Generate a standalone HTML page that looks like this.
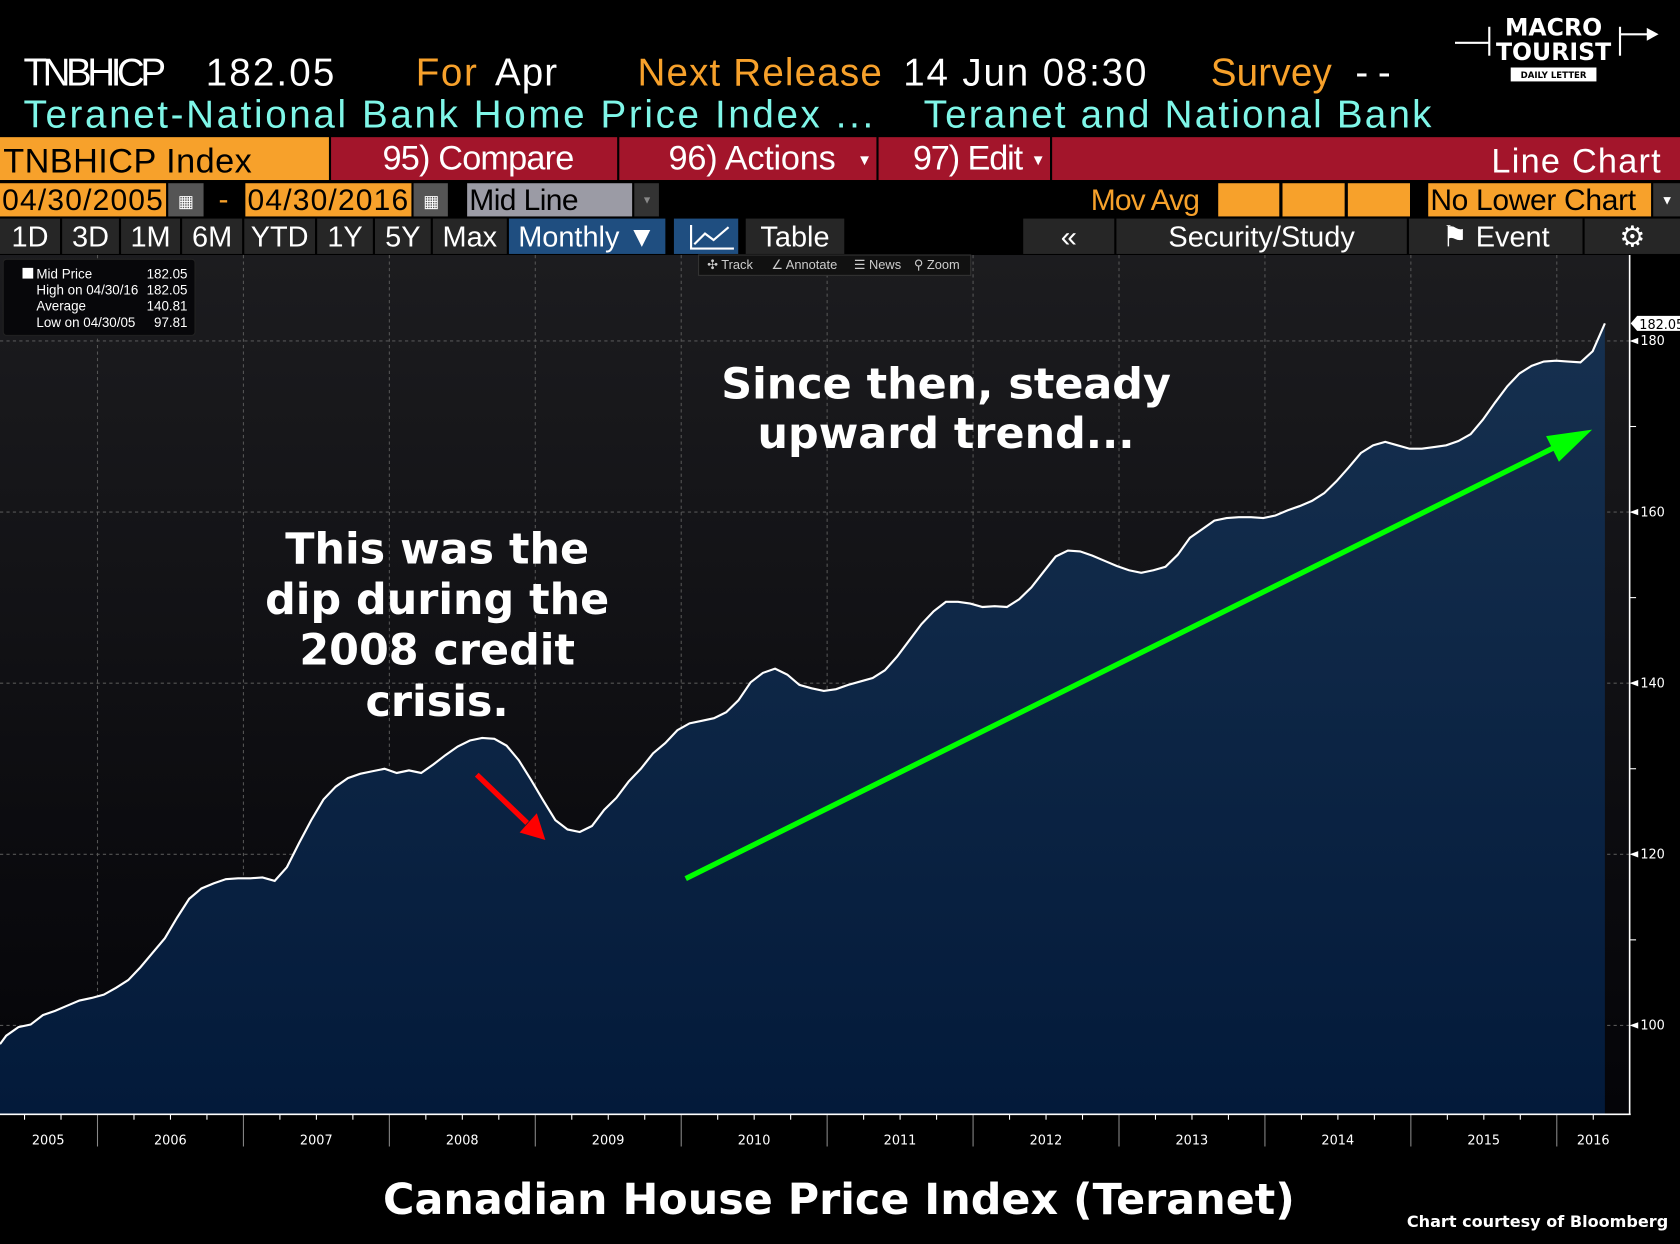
<!DOCTYPE html>
<html><head><meta charset="utf-8"><style>
html,body{margin:0;padding:0;background:#000;overflow:hidden}
svg{display:block}
.m{font-family:"Liberation Sans Narrow","Liberation Sans",sans-serif}
.b{font-family:"DejaVu Sans","Liberation Sans",sans-serif;font-weight:bold}
</style></head><body>
<svg id="svg" width="1680" height="1244" viewBox="0 0 1568 1161" preserveAspectRatio="none" xmlns="http://www.w3.org/2000/svg">
<defs>
<linearGradient id="fill" x1="0" y1="0" x2="0" y2="1"><stop offset="0" stop-color="#16304f"/><stop offset="1" stop-color="#031a3a"/></linearGradient>
<linearGradient id="bg" x1="0" y1="0" x2="0" y2="1"><stop offset="0" stop-color="#1c1c1f"/><stop offset="1" stop-color="#040408"/></linearGradient>
</defs>
<rect width="1568" height="1161" fill="#000"/>
<g class="m" font-size="36">
<text x="22" y="80" fill="#fff" textLength="133">TNBHICP</text>
<text x="192" y="80" fill="#fff" textLength="120">182.05</text>
<text x="388" y="80" fill="#f7a12b" textLength="57">For</text>
<text x="462" y="80" fill="#fff" textLength="58">Apr</text>
<text x="595" y="80" fill="#f7a12b" textLength="228">Next Release</text>
<text x="843" y="80" fill="#fff" textLength="227">14 Jun 08:30</text>
<text x="1130" y="80" fill="#f7a12b" textLength="113">Survey</text>
<text x="1265" y="80" fill="#fff" textLength="33">--</text>
<text x="22" y="119" fill="#7ff6e8" textLength="793">Teranet-National Bank Home Price Index ...</text>
<text x="862" y="119" fill="#7ff6e8" textLength="474">Teranet and National Bank</text>
</g>
<g>
<text x="1450" y="33" class="b" font-size="22" fill="#fff" text-anchor="middle">MACRO</text>
<text x="1450" y="56" class="b" font-size="22" fill="#fff" text-anchor="middle">TOURIST</text>
<rect x="1410" y="63" width="80" height="13" fill="#fff"/>
<text x="1450" y="73" class="b" font-size="8" fill="#000" text-anchor="middle">DAILY LETTER</text>
<line x1="1358" y1="40" x2="1390" y2="40" stroke="#fff" stroke-width="2"/><line x1="1390" y1="25" x2="1390" y2="52" stroke="#fff" stroke-width="2"/>
<line x1="1512" y1="25" x2="1512" y2="52" stroke="#fff" stroke-width="2"/><line x1="1512" y1="32" x2="1540" y2="32" stroke="#fff" stroke-width="2"/><path d="M1537 26 L1548 32 L1537 38Z" fill="#fff"/>
</g>
<g class="m" font-size="32">
<rect x="0" y="128" width="307" height="40" fill="#f7a12b"/>
<text x="3" y="161" fill="#000" textLength="232">TNBHICP Index</text>
<rect x="309" y="128" width="267" height="40" fill="#a3152b"/>
<text x="357" y="158" fill="#fff" textLength="179">95) Compare</text>
<rect x="578" y="128" width="240" height="40" fill="#a3152b"/>
<text x="624" y="158" fill="#fff" textLength="156">96) Actions</text><text x="800" y="154" fill="#fff" font-size="14">▼</text>
<rect x="820" y="128" width="160" height="40" fill="#a3152b"/>
<text x="852" y="158" fill="#fff" textLength="103">97) Edit</text><text x="962" y="154" fill="#fff" font-size="14">▼</text>
<rect x="982" y="128" width="586" height="40" fill="#a3152b"/>
<text x="1392" y="161" fill="#fff" textLength="158">Line Chart</text>
</g>
<g class="m" font-size="28">
<rect x="0" y="171" width="155" height="31" fill="#f7a12b"/>
<text x="2" y="196" fill="#000" textLength="150">04/30/2005</text>
<rect x="157" y="171" width="33" height="31" fill="#555"/>
<text x="166" y="193" fill="#fff" font-size="16">▦</text>
<text x="204" y="195" fill="#f7a12b">-</text>
<rect x="229" y="171" width="155" height="31" fill="#f7a12b"/>
<text x="231" y="196" fill="#000" textLength="150">04/30/2016</text>
<rect x="386" y="171" width="32" height="31" fill="#555"/>
<text x="395" y="193" fill="#fff" font-size="16">▦</text>
<rect x="436" y="171" width="154" height="31" fill="#9b9ba5"/>
<text x="438" y="196" fill="#000" textLength="102">Mid Line</text>
<rect x="592" y="171" width="23" height="31" fill="#333"/><text x="599" y="190" fill="#888" font-size="10">▼</text>
<text x="1018" y="196" fill="#f7a12b" textLength="102">Mov Avg</text>
<rect x="1137" y="171" width="57" height="31" fill="#f7a12b"/>
<rect x="1197" y="171" width="58" height="31" fill="#f7a12b"/>
<rect x="1258" y="171" width="58" height="31" fill="#f7a12b"/>
<rect x="1333" y="171" width="208" height="31" fill="#f7a12b"/>
<text x="1335" y="196" fill="#000" textLength="192">No Lower Chart</text>
<rect x="1543" y="171" width="25" height="31" fill="#333"/><text x="1550" y="191" fill="#fff" font-size="12">▼</text>
</g>
<g class="m" font-size="27" fill="#fff" id="row5"></g>
<rect x="0" y="238" width="1521" height="802" fill="url(#bg)"/>
<g id="grid"></g>
<path id="area" fill="url(#fill)"/>
<path id="line" fill="none" stroke="#fff" stroke-width="2"/>
<g id="axes"></g>
<g class="m" font-size="12.5" fill="#fff">
<rect x="3" y="242" width="179" height="71" rx="3" fill="#07070a" stroke="#222"/>
<rect x="21" y="250" width="10" height="10" fill="#fff"/>
<text x="34" y="260">Mid Price</text><text x="175" y="260" text-anchor="end">182.05</text>
<text x="34" y="275">High on 04/30/16</text><text x="175" y="275" text-anchor="end">182.05</text>
<text x="34" y="290">Average</text><text x="175" y="290" text-anchor="end">140.81</text>
<text x="34" y="305">Low on 04/30/05</text><text x="175" y="305" text-anchor="end">97.81</text>
</g>
<g class="m" font-size="12" fill="#ccc">
<rect x="652" y="238" width="254" height="19" fill="#111" stroke="#333"/>
<text x="660" y="251">✣ Track</text><text x="720" y="251">∠ Annotate</text><text x="797" y="251">☰ News</text><text x="853" y="251">⚲ Zoom</text>
</g>
<g class="b" font-size="40" fill="#fff" text-anchor="middle">
<text x="883" y="372"><tspan x="883">Since then, steady</tspan><tspan x="883" y="418">upward trend...</tspan></text>
<text x="408" y="526"><tspan x="408">This was the</tspan><tspan x="408" y="573">dip during the</tspan><tspan x="408" y="620">2008 credit</tspan><tspan x="408" y="668">crisis.</tspan></text>
</g>
<g><line x1="445" y1="723" x2="492" y2="768" stroke="#f00" stroke-width="5"/><path d="M509 784 L485 777 L501 759Z" fill="#f00"/></g>
<g><line x1="640" y1="820" x2="1450" y2="418" stroke="#0f0" stroke-width="5"/><path d="M1486 401 L1443 407 L1455 431Z" fill="#0f0"/></g>
<text x="783" y="1133" class="b" font-size="40" fill="#fff" text-anchor="middle">Canadian House Price Index (Teranet)</text>
<text x="1557" y="1145" class="b" font-size="15" fill="#fff" text-anchor="end">Chart courtesy of Bloomberg</text>
</svg>
<script>
const values=[97.81,98.8,99.8,100.1,101.2,101.7,102.3,102.9,103.2,103.6,104.4,105.3,106.8,108.5,110.2,112.6,114.8,116.0,116.6,117.1,117.2,117.2,117.3,116.9,118.5,121.3,124.0,126.4,127.9,128.9,129.4,129.7,130.0,129.5,129.8,129.5,130.5,131.6,132.6,133.3,133.6,133.5,132.7,131.0,128.7,126.3,124.0,122.9,122.6,123.3,125.2,126.6,128.5,130.0,131.8,133.0,134.5,135.3,135.6,135.9,136.6,138.0,140.1,141.2,141.7,141.0,139.8,139.4,139.1,139.3,139.8,140.2,140.6,141.5,143.1,145.0,146.9,148.4,149.5,149.5,149.3,148.9,149.0,148.9,149.8,151.2,153.0,154.8,155.5,155.4,154.9,154.3,153.7,153.2,152.9,153.2,153.6,155.0,157.0,158.0,159.0,159.3,159.4,159.4,159.3,159.6,160.2,160.7,161.3,162.2,163.6,165.2,166.9,167.8,168.2,167.8,167.4,167.4,167.6,167.8,168.3,169.1,170.8,172.8,174.7,176.2,177.1,177.6,177.7,177.6,177.5,178.8,182.05];
const years=[2005,2006,2007,2008,2009,2010,2011,2012,2013,2014,2015,2016];
const yTicks=[100,120,140,160,180];
const yMinor=[110,130,150,170];
const NS="http://www.w3.org/2000/svg";
function X(i){return -5.6+i*11.39;}
function Xyear(y){return 91+(y-2006)*136.2;}
function Y(v){return 957-(v-100)*7.985;}
function mk(tag,attrs,parent){const e=document.createElementNS(NS,tag);for(const k in attrs)e.setAttribute(k,attrs[k]);parent.appendChild(e);return e;}
const grid=document.getElementById('grid'),axes=document.getElementById('axes');
yTicks.forEach(v=>{
 const l=mk('line',{x1:0,x2:1521,y1:Y(v),y2:Y(v),stroke:'#555','stroke-dasharray':'3,3','stroke-width':1},grid);
 
 
 mk('path',{d:`M1521 ${Y(v)} l8 -3 v6z`,fill:'#fff'},axes);
 const t=mk('text',{x:1531,y:Y(v)+4,fill:'#fff','font-size':12,'font-family':'DejaVu Sans, sans-serif'},axes);
 t.textContent=v;
 
 
});
yMinor.forEach(v=>mk('line',{x1:1521,x2:1527,y1:Y(v),y2:Y(v),stroke:'#fff'},axes));
years.forEach(y=>{
 if(y>2005){
  const g=mk('line',{x1:Xyear(y),x2:Xyear(y),y1:238,y2:1040,stroke:'#555','stroke-dasharray':'3,3'},grid);
  
  
  mk('line',{x1:Xyear(y),x2:Xyear(y),y1:1040,y2:1070,stroke:'#888'},axes);
 }
 for(let q=1;q<4;q++){const xq=Xyear(y)+q*34.05;if(xq>0&&xq<1521)mk('line',{x1:xq,x2:xq,y1:1040,y2:1045,stroke:'#fff'},axes);}
 const cx=y===2005?45:(y===2016?1487:Xyear(y)+68);
 const t=mk('text',{x:cx,y:1068,fill:'#fff','font-size':12,'text-anchor':'middle','font-family':'DejaVu Sans, sans-serif'},axes);
 t.textContent=y;
 
 
});
mk('line',{x1:0,x2:1522,y1:1040,y2:1040,stroke:'#fff','stroke-width':1.5},axes);
mk('line',{x1:1521,x2:1521,y1:238,y2:1040,stroke:'#fff','stroke-width':1.5},axes);
const last=values[values.length-1];
mk('path',{d:`M1522 ${Y(last)} l6 -7 h40 v14 h-40z`,fill:'#fff'},axes);
const lt=mk('text',{x:1530,y:Y(last)+5,fill:'#000','font-size':12,'font-family':'DejaVu Sans, sans-serif'},axes);
lt.textContent=last.toFixed(2);


let d='';values.forEach((v,i)=>{d+=(i?'L':'M')+Math.max(0,X(i)).toFixed(1)+' '+Y(v).toFixed(1);});
document.getElementById('line').setAttribute('d',d);
document.getElementById('area').setAttribute('d',d+`L${X(values.length-1)} 1040 L0 1040Z`);
const row5=document.getElementById('row5');
const btns=[['1D',0,56],['3D',58,111],['1M',113,168],['6M',170,226],['YTD',228,294],['1Y',296,348],['5Y',350,402],['Max',404,473],['Monthly ▼',475,621,'#1f4e80'],['',629,689,'#1f4e80'],['Table',696,788],['«',955,1040],['Security/Study',1042,1313],['⚑ Event',1315,1477],['⚙',1479,1568]];
btns.forEach(b=>{
 const r=mk('rect',{x:b[1],y:204,width:b[2]-b[1],height:33,fill:b[3]||'#262626'},row5);
 
 
 const t=mk('text',{x:(b[1]+b[2])/2,y:230,'text-anchor':'middle'},row5);t.textContent=b[0];
});
mk('path',{d:'M645 210 v22 h40 M648 228 l10 -10 l8 6 l14 -12',stroke:'#fff','stroke-width':2,fill:'none'},row5);
</script>
</body></html>
